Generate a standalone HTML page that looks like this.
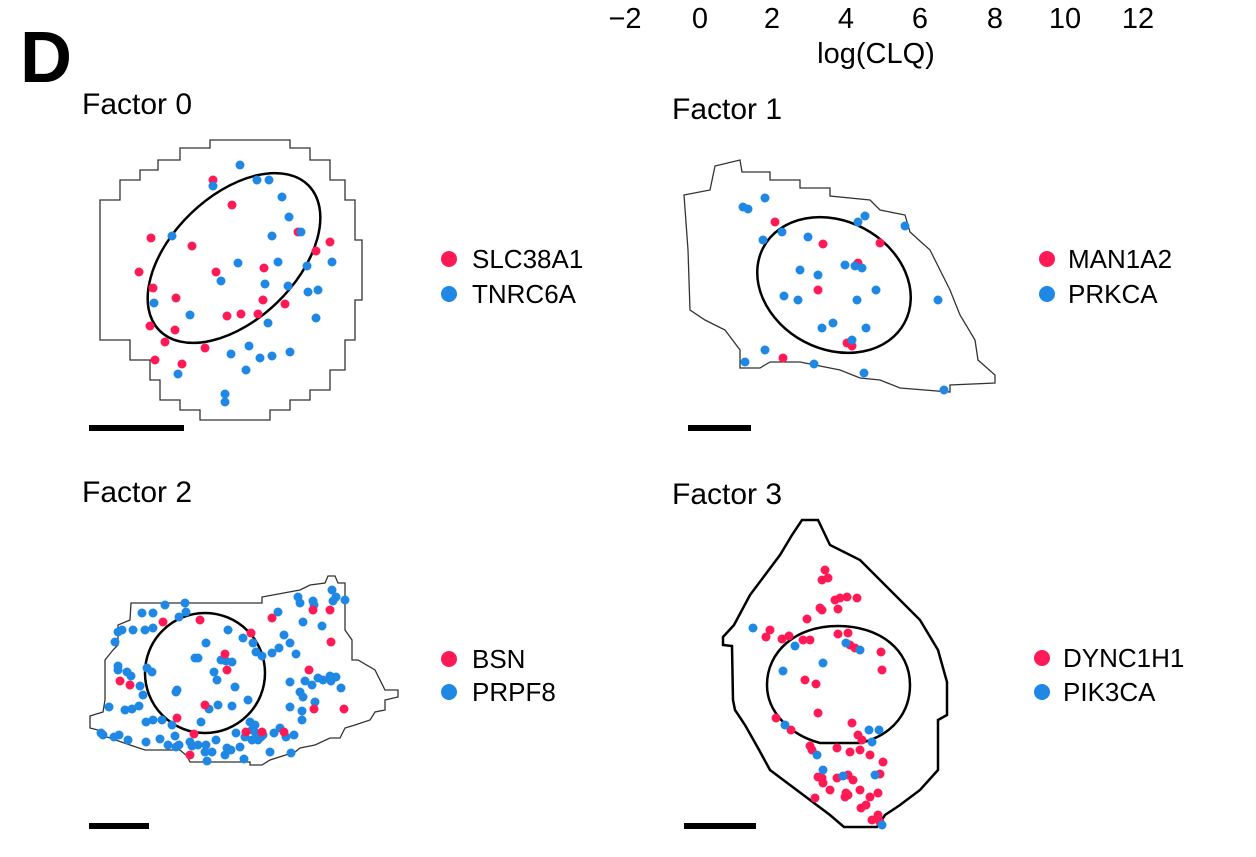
<!DOCTYPE html>
<html><head><meta charset="utf-8"><style>
body{margin:0;background:#fff}
svg{display:block}
text{font-family:"Liberation Sans",Arial,sans-serif;fill:#000}
</style></head><body>
<svg id="s" width="1256" height="857" viewBox="0 0 1256 857" xmlns="http://www.w3.org/2000/svg">
<g font-size="29" text-anchor="middle">
<text x="625" y="28">−2</text><text x="700" y="28">0</text><text x="772" y="28">2</text><text x="846" y="28">4</text><text x="920" y="28">6</text><text x="995" y="28">8</text><text x="1065" y="28">10</text><text x="1138" y="28">12</text>
<text x="876" y="63">log(CLQ)</text>
</g>
<text x="20" y="82" font-size="72" font-weight="bold">D</text>
<g font-size="30">
<text x="82" y="114">Factor 0</text><text x="672" y="119">Factor 1</text>
<text x="82" y="502">Factor 2</text><text x="672" y="504">Factor 3</text>
</g>
<g font-size="26">
<text x="472" y="268">SLC38A1</text><text x="472" y="303">TNRC6A</text>
<text x="1068" y="268">MAN1A2</text><text x="1068" y="303">PRKCA</text>
<text x="472" y="668">BSN</text><text x="472" y="701">PRPF8</text>
<text x="1063" y="667">DYNC1H1</text><text x="1063" y="701">PIK3CA</text>
</g>
<g>
<circle cx="449" cy="259" r="8" fill="#ff1a55"/><circle cx="449" cy="294" r="8" fill="#1f88e5"/>
<circle cx="1047" cy="259" r="8" fill="#ff1a55"/><circle cx="1047" cy="294" r="8" fill="#1f88e5"/>
<circle cx="449" cy="659" r="8" fill="#ff1a55"/><circle cx="449" cy="692" r="8" fill="#1f88e5"/>
<circle cx="1042" cy="658" r="8" fill="#ff1a55"/><circle cx="1042" cy="692" r="8" fill="#1f88e5"/>
</g>
<g fill="#000">
<rect x="89" y="425" width="95" height="6"/><rect x="688" y="425" width="63" height="6"/>
<rect x="89" y="823" width="60" height="6"/><rect x="684" y="823" width="72" height="6"/>
</g>
<g fill="none" stroke="#333" stroke-width="1.3">
<polygon points="158,160 180,160 180,148 210,148 210,140 290,140 290,148 310,148 310,160 330,160 330,180 345,180 345,200 355,200 355,240 362,240 362,300 355,300 355,340 345,340 345,370 330,370 330,390 310,390 310,400 290,400 290,410 270,410 270,420 200,420 200,410 180,410 180,400 160,400 160,380 150,380 150,360 130,360 130,340 100,340 100,200 120,200 120,180 140,180 140,170 158,170"/>
<polygon points="684,195 710,190 715,166 740,160 742,172 770,172 770,180 800,180 800,188 830,188 830,196 870,200 880,210 905,215 910,232 930,250 950,290 960,315 975,340 978,360 995,375 995,383 950,385 950,392 900,388 880,380 860,378 840,370 800,362 770,362 760,368 740,368 740,350 725,330 705,320 690,310 688,250"/>
<polygon points="131,603 262,603 262,597 300,590 310,585 325,583 328,576 335,576 338,583 345,583 345,630 352,640 352,660 358,660 375,670 385,690 398,690 398,697 385,700 385,710 375,712 370,720 355,725 345,728 340,738 330,738 315,745 300,748 295,752 270,760 262,765 250,765 250,762 190,762 187,756 180,750 145,750 130,745 110,738 100,735 98,730 90,728 90,716 103,712 105,700 105,660 113,650 118,645 118,625 130,620"/>
</g>
<polygon fill="none" stroke="#000" stroke-width="2.5" points="802,520 818,520 830,545 860,560 890,590 920,620 938,650 947,682 947,715 938,720 938,770 920,790 900,805 885,815 877,827 844,827 830,815 810,800 790,785 770,770 758,748 745,725 735,710 733,700 732,646 723,645 723,637 734,625 750,595 765,575 780,555 792,535"/>
<g fill="none" stroke="#000" stroke-width="2.5">
<ellipse cx="234" cy="258" rx="104" ry="62" transform="rotate(-44 234 258)"/>
<ellipse cx="834" cy="285" rx="80" ry="64" transform="rotate(28 834 285)"/>
<ellipse cx="205" cy="673" rx="60" ry="60"/>
<path d="M820,743 L860,743 C895,735 910,710 910,685 C910,650 880,626 838,626 C795,626 767,652 767,685 C767,712 790,735 820,743 Z"/>
</g>
<g id="d"></g>
</svg>
<script>
var R="#ff1a55",B="#1f88e5";
var sets=[
[R,[213,180,232,205,151,238,192,246,139,272,216,272,264,268,298,232,330,242,153,288,176,298,150,326,175,330,263,300,285,304,227,316,241,314,258,314,155,360,182,364,205,348,165,342,316,251]],
[B,[240,165,257,180,269,180,213,186,282,197,289,217,301,232,172,236,238,263,221,281,278,262,272,236,332,262,265,284,154,303,307,266,316,318,318,290,288,286,268,323,178,374,190,315,260,358,272,356,290,352,249,346,231,354,225,394,225,402,246,370,308,292]],
[R,[775,222,823,244,880,243,818,290,847,343,852,346,783,358,858,263]],
[B,[743,207,748,209,765,198,782,232,763,240,808,237,865,216,858,222,905,226,800,270,818,275,845,265,855,266,862,268,876,290,857,300,798,300,784,296,833,323,822,328,866,328,852,340,765,350,745,362,814,364,864,373,938,300,944,390]],
[B,[165,605,185,603,186,612,179,617,142,613,153,613,145,630,133,630,118,632,153,628,228,630,206,643,195,658,198,658,226,661,243,638,232,662,256,652,272,653,279,648,262,656,278,612,300,603,313,601,298,597,314,605,333,601,336,597,332,590,345,600,303,622,322,626,122,630,115,642,118,666,118,670,127,672,131,676,147,668,152,672,140,686,143,695,132,709,125,710,139,706,153,720,109,707,103,735,101,733,114,737,119,735,146,742,128,740,160,739,146,722,162,720,172,725,168,745,175,736,176,747,179,745,192,746,198,745,190,742,206,745,216,740,212,752,236,733,245,737,256,733,261,737,263,735,255,725,258,740,250,722,274,733,290,707,302,711,290,682,300,692,305,681,312,685,323,680,330,676,336,677,341,688,252,740,231,750,205,752,227,748,177,690,176,692,201,722,218,705,221,660,209,709,214,672,217,680,296,654,253,643,235,687,232,706,270,752,294,735,280,728,303,697,315,702,248,700,252,730,290,643,284,635,318,678,331,681,302,720,286,737,291,753,225,755,244,759,207,761,240,747]],
[R,[163,622,200,620,225,654,227,670,251,633,272,618,313,610,330,610,331,642,120,681,130,685,177,718,194,734,190,755,246,732,314,709,344,709,284,732,262,732,309,670,205,705]],
[R,[822,580,828,578,835,600,840,598,847,597,857,598,822,610,820,608,838,609,807,619,789,636,766,637,782,639,803,640,810,640,838,634,848,633,850,645,855,648,881,652,882,670,805,680,816,684,818,713,776,718,791,730,852,723,858,735,862,740,810,746,812,750,837,748,850,752,860,750,870,755,883,762,880,774,818,777,822,778,823,783,837,778,848,775,853,780,830,790,815,798,846,793,845,797,870,797,878,793,860,790,848,795,861,808,866,805,878,815,872,820,880,822,770,630,825,570]],
[B,[753,628,795,646,823,663,846,643,860,650,783,671,785,725,817,755,869,730,879,730,872,742,823,770,843,776,875,775,882,825]]
];
var g=document.getElementById("d"),h="";
sets.forEach(function(s){for(var i=0;i<s[1].length;i+=2)h+='<circle cx="'+s[1][i]+'" cy="'+s[1][i+1]+'" r="4.5" fill="'+s[0]+'"/>';});
g.innerHTML=h;
</script>
</body></html>
